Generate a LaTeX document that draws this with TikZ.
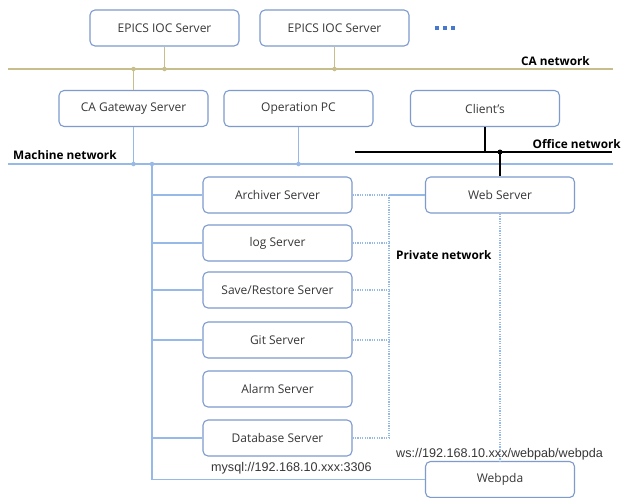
\documentclass[tikz,border=0pt]{standalone}
\usepackage{fontspec}
\setmainfont{Open Sans}
\newfontfamily\urlfont{Liberation Sans}
\definecolor{boxline}{RGB}{125,155,205}
\definecolor{machline}{RGB}{150,185,232}
\definecolor{caline}{RGB}{200,190,140}
\definecolor{txtgray}{RGB}{55,55,55}
\definecolor{dotblue}{RGB}{70,120,205}
\begin{document}
\begin{tikzpicture}[x=1pt,y=-1pt,
  srv/.style={draw=boxline,line width=1.1pt,rounded corners=5pt,fill=white,
    minimum width=149pt,minimum height=36pt,inner sep=0pt,
    font=\fontsize{12}{14}\selectfont,text=txtgray},
  netlbl/.style={font=\bfseries\fontsize{11.8}{13}\selectfont,text=black,inner sep=0pt},
  urllbl/.style={font=\urlfont\fontsize{12.6}{14}\selectfont,text=txtgray,inner sep=0pt},
  caw/.style={draw=caline,line width=1.6pt},
  maw/.style={draw=machline,line width=1.8pt},
  offw/.style={draw=black,line width=1.4pt},
  priv/.style={draw=machline,line width=1.2pt,dash pattern=on 1.2pt off 1.2pt},
  privs/.style={draw=machline,line width=1.1pt},
  jdot/.style={circle,inner sep=0pt,minimum size=4.5pt}
]
\useasboundingbox (0,0) rectangle (622,498);
\fill[white] (0,0) rectangle (622,498);

% top servers
\node[srv] (ioc1) at (164.5,28) {EPICS IOC Server};
\node[srv] (ioc2) at (334.5,28) {EPICS IOC Server};
\foreach \xx in {437,445,453} \fill[dotblue] (\xx-2,26) rectangle (\xx+2,30);

% CA network
\coordinate (caL) at (8,69);
\coordinate (caR) at (613,69);
\draw[caw] (caL) -- (caR);
\node[netlbl,anchor=east] (calbl) at (590,61) {CA network};

% middle row
\node[srv] (gw) at (133.5,108.5) {CA Gateway Server};
\node[srv] (op) at (298.5,108.5) {Operation PC};
\node[srv] (cl) at (485,108.5) {Client's};

\coordinate (ca1) at (164.5,69);
\coordinate (ca2) at (334.5,69);
\coordinate (ca3) at (133.5,69);
\draw[caw] (ioc1.south) -- (ca1);
\draw[caw] (ioc2.south) -- (ca2);
\draw[caw] (gw.north) -- (ca3);
\foreach \c in {ca1,ca2,ca3} \node[jdot,fill=caline] at (\c) {};

% office network
\coordinate (offL) at (355,152);
\coordinate (offR) at (612,152);
\coordinate (off1) at (485,152);
\coordinate (off2) at (500,152);
\draw[offw] (offL) -- (offR);
\draw[offw] (cl.south) -- (off1);
\node[netlbl,anchor=east] (offlbl) at (621,144) {Office network};

% machine network
\coordinate (maL) at (8,164);
\coordinate (maR) at (613,164);
\draw[maw] (maL) -- (maR);
\node[netlbl,anchor=west] (malbl) at (13,155) {Machine network};
\coordinate (ma1) at (133.5,164);
\coordinate (ma2) at (152,164);
\coordinate (ma3) at (298.5,164);
\draw[maw] (gw.south) -- (ma1);
\draw[maw] (op.south) -- (ma3);

% server column
\node[srv] (arch) at (277.5,195) {Archiver Server};
\node[srv] (log) at (277.5,243) {log Server};
\node[srv] (save) at (277.5,290) {Save/Restore Server};
\node[srv] (git) at (277.5,340) {Git Server};
\node[srv] (alarm) at (277.5,389) {Alarm Server};
\node[srv] (db) at (277.5,438) {Database Server};
\node[srv] (web) at (500,195) {Web Server};
\node[srv] (pda) at (500,479.5) {Webpda};

% trunk
\coordinate (tb) at (152,479.5);
\draw[maw] (ma2) -- (tb) -- (pda.west);
\foreach \n in {arch,log,save,git,db} \draw[maw] (152,0 |- \n.west) -- (\n.west);
\foreach \c in {ma1,ma2,ma3} \node[jdot,fill=machline] at (\c) {};

% office to web server
\draw[offw] (off2) -- (web.north);
\node[jdot,fill=black,minimum size=5pt] at (off2) {};

% private network
\coordinate (pvTop) at (389,195);
\coordinate (pvBot) at (389,438);
\foreach \n in {arch,log,save,git,db} \draw[priv] (\n.east) -- (389,0 |- \n.east);
\draw[priv] (pvTop) -- (pvBot);
\draw[privs] (pvTop) -- (web.west);
\draw[priv] (web.south) -- (pda.north);
\node[netlbl,anchor=west] (pvlbl) at (396,255) {Private network};

% urls
\node[urllbl,anchor=west] (mysql) at (211,468) {mysql://192.168.10.xxx:3306};
\node[urllbl,anchor=west] (ws) at (396,454) {ws://192.168.10.xxx/webpab/webpda};
\end{tikzpicture}
\end{document}
